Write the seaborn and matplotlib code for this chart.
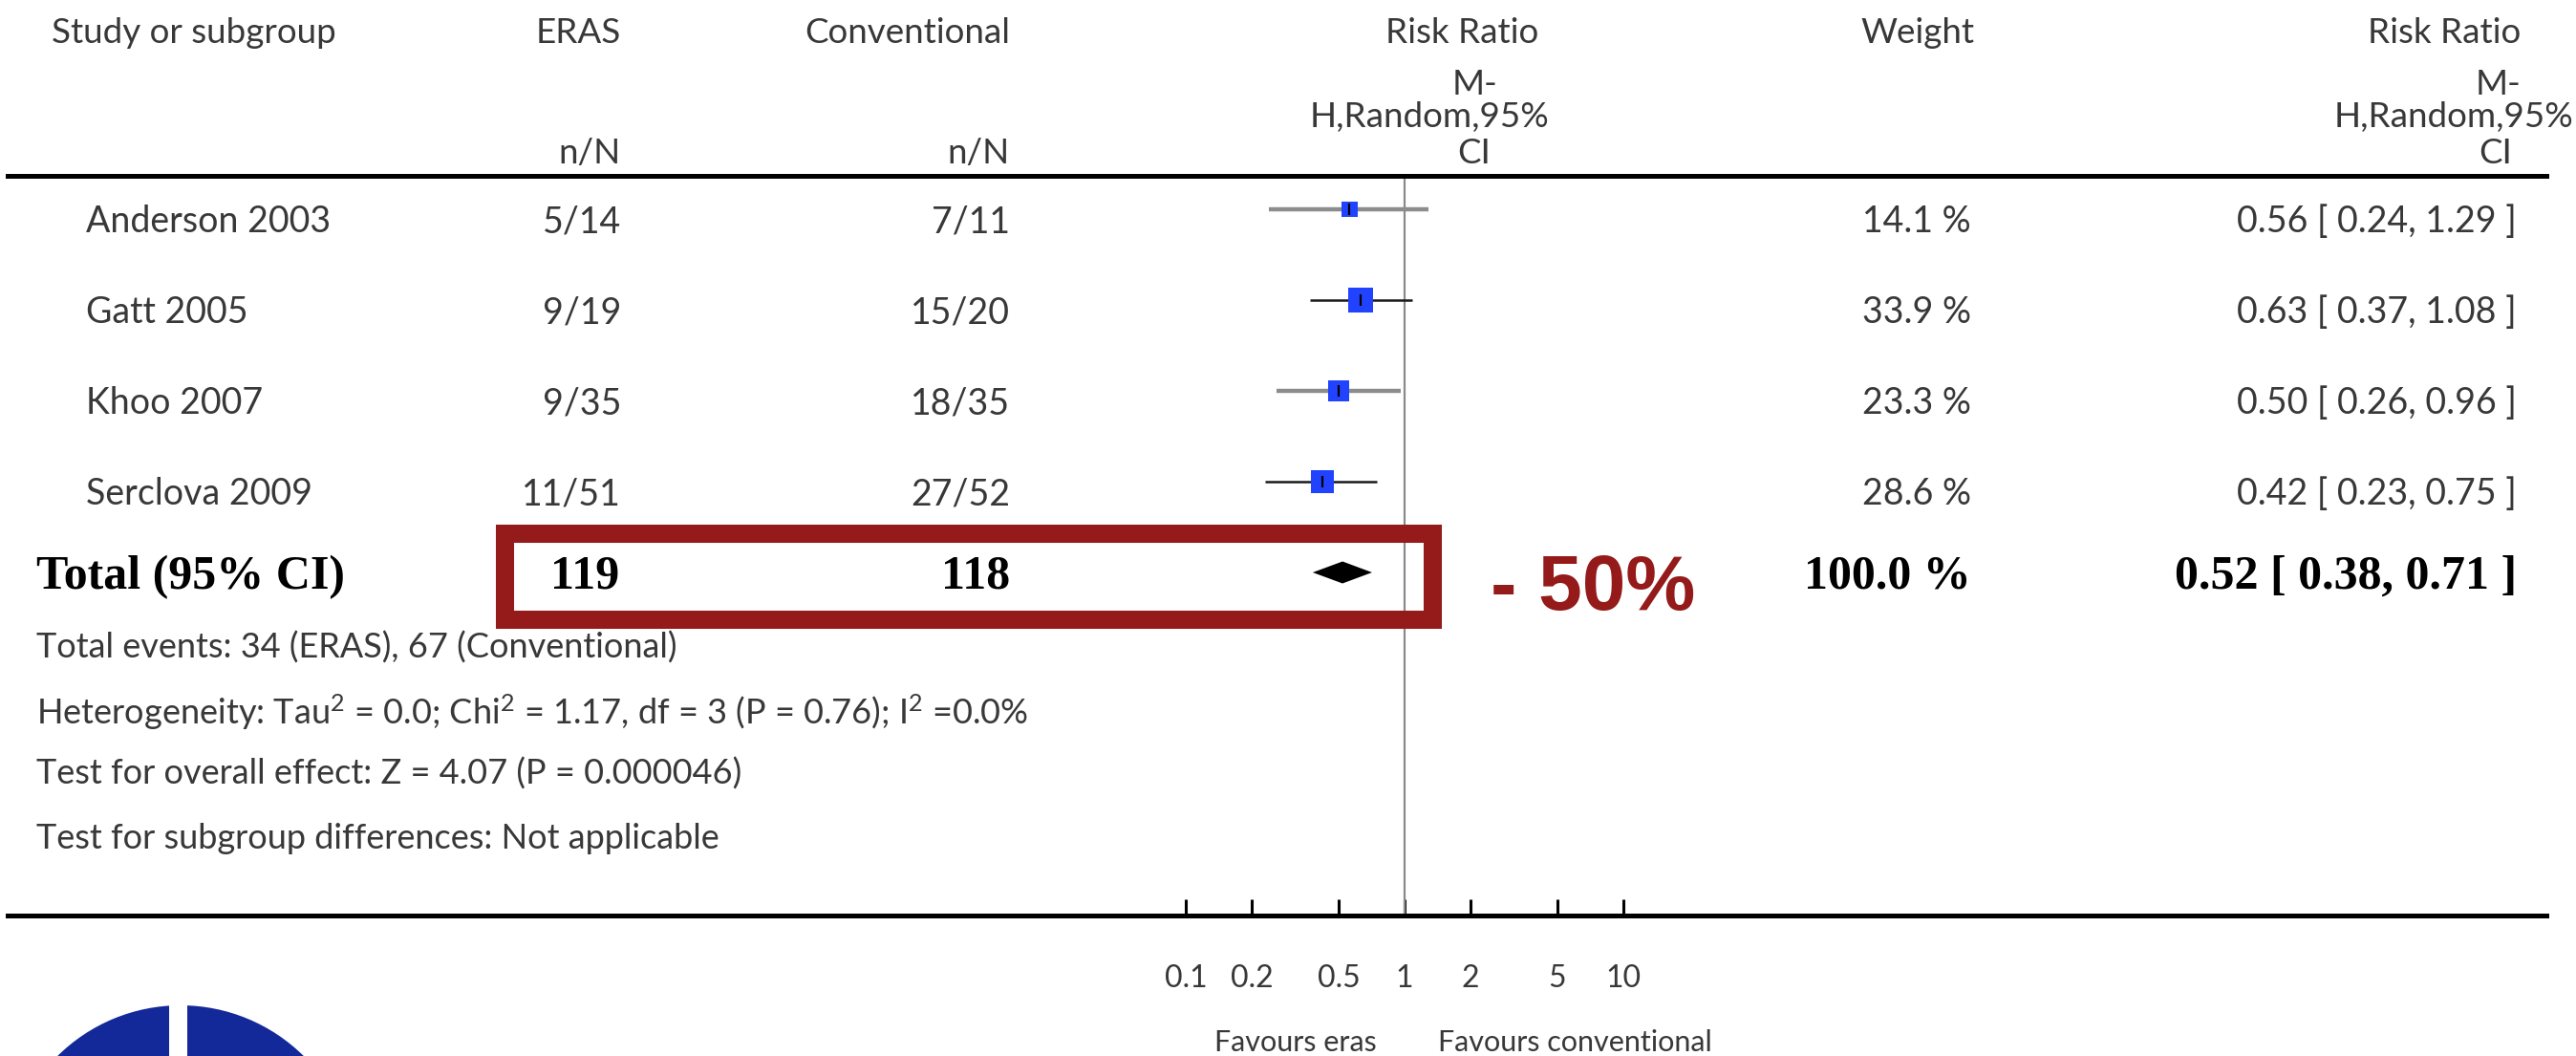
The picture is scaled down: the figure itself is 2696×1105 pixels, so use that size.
import numpy as np
import pandas as pd
import matplotlib
matplotlib.use("Agg")
import matplotlib.pyplot as plt
import matplotlib.transforms as mtransforms
from matplotlib.patches import Rectangle, Circle
from matplotlib.ticker import NullLocator, FixedLocator, FixedFormatter
import seaborn as sns

# ---- data -------------------------------------------------------------
studies = ["Anderson 2003", "Gatt 2005", "Khoo 2007", "Serclova 2009"]
eras_events = [5, 9, 9, 11]
eras_total = [14, 19, 35, 51]
conv_events = [7, 15, 18, 27]
conv_total = [11, 20, 35, 52]
weights = [14.1, 33.9, 23.3, 28.6]
rr = [0.56, 0.63, 0.50, 0.42]
rr_low = [0.24, 0.37, 0.26, 0.23]
rr_high = [1.29, 1.08, 0.96, 0.75]

total_eras_n = 119
total_conv_n = 118
total_weight = 100.0
total_rr = 0.52
total_low = 0.38
total_high = 0.71
events_eras = 34
events_conv = 67
footnotes = [
    f"Total events: {events_eras} (ERAS), {events_conv} (Conventional)",
    r"Heterogeneity: Tau$^{2}$ = 0.0; Chi$^{2}$ = 1.17, df = 3 (P = 0.76); I$^{2}$ =0.0%",
    "Test for overall effect: Z = 4.07 (P = 0.000046)",
    "Test for subgroup differences: Not applicable",
]
reduction_label = "- 50%"

scale_ticks = [0.1, 0.2, 0.5, 1, 2, 5, 10]
scale_tick_labels = ["0.1", "0.2", "0.5", "1", "2", "5", "10"]
favours_left = "Favours eras"
favours_right = "Favours conventional"

# ---- style ------------------------------------------------------------
sns.set_theme(style="white")
plt.rcParams["font.family"] = ["Lato", "DejaVu Sans"]
plt.rcParams["mathtext.fontset"] = "custom"
plt.rcParams["mathtext.rm"] = "Lato"
plt.rcParams["mathtext.it"] = "Lato:italic"
plt.rcParams["mathtext.bf"] = "Lato:bold"
plt.rcParams["mathtext.default"] = "rm"
TXT = "#383838"
RED = "#951a1a"
BLUE = "#2143ff"
SERIF = ["Liberation Serif", "DejaVu Serif"]

W, H = 2696, 1105
fig = plt.figure(figsize=(W / 100, H / 100), dpi=100)
fig.patch.set_facecolor("white")

# forest axes: its top and bottom spines are the table rules
AX_L, AX_R, AX_T, AX_B = 8, 2665, 184, 958
ax = fig.add_axes([AX_L / W, 1 - AX_B / H, (AX_R - AX_L) / W, (AX_B - AX_T) / H])

ROW0, ROW_H = 219, 95          # first row centre and row pitch (px)
PX_ONE, PX_DEC = 1470, 228.7   # x of RR=1 and width of one decade (px)


def row_of(py):
    return (py - ROW0) / ROW_H


def colx(px):
    return (px - AX_L) / (AX_R - AX_L)


ax.set_xscale("log")
ax.set_xlim(10 ** ((AX_L - PX_ONE) / PX_DEC), 10 ** ((AX_R - PX_ONE) / PX_DEC))
ax.set_ylim(row_of(AX_B), row_of(AX_T))
T = ax.get_yaxis_transform()


def put(px, py, s, ha="left", size=27, color=TXT, **kw):
    ax.text(colx(px), row_of(py), s, transform=T, ha=ha, va="baseline",
            fontsize=size, color=color, clip_on=False, **kw)


# ---- header ------------------------------------------------------------
put(54, 45, "Study or subgroup", size=26.5)
put(650, 45, "ERAS", ha="right", size=26.5)
put(650, 171, "n/N", ha="right", size=26.5)
put(1057, 45, "Conventional", ha="right", size=26.5)
put(1057, 171, "n/N", ha="right", size=26.5)
put(1530, 45, "Risk Ratio", ha="center", size=26.5)
put(1543, 99, "M-", ha="center", size=26.5)
put(1496, 133, "H,Random,95%", ha="center", size=26.5)
put(1543, 171, "CI", ha="center", size=26.5)
put(2007, 45, "Weight", ha="center", size=26.5)
put(2638, 45, "Risk Ratio", ha="right", size=26.5)
put(2638, 99, "M-", ha="right", size=26.5)
put(2693, 133, "H,Random,95%", ha="right", size=26.5)
put(2629, 171, "CI", ha="right", size=26.5)

# ---- study rows --------------------------------------------------------
df = pd.DataFrame({
    "study": studies, "rr": rr, "lo": rr_low, "hi": rr_high,
    "weight": weights, "row": np.arange(len(studies)),
})
ci_colors = ["#8c8c8c", "#1a1a1a", "#8c8c8c", "#1a1a1a"]
ci_widths = [3.2, 1.8, 3.2, 1.8]
BASE = 24  # baseline offset below row centre (px)
for i, r in df.iterrows():
    yb = ROW0 + ROW_H * r["row"] + BASE
    put(90, yb, r["study"])
    put(650, yb, f"{eras_events[i]}/{eras_total[i]}", ha="right")
    put(1057, yb, f"{conv_events[i]}/{conv_total[i]}", ha="right")
    put(2063, yb, f"{r['weight']:.1f} %", ha="right")
    put(2634, yb, f"{r['rr']:.2f} [ {r['lo']:.2f}, {r['hi']:.2f} ]", ha="right")

ax.hlines(df["row"], df["lo"], df["hi"], colors=ci_colors,
          linewidths=ci_widths, zorder=2)
sns.scatterplot(data=df, x="rr", y="row", size="weight", sizes=(0, 1035),
                size_norm=(0, 100), marker="s", color=BLUE, edgecolor="none",
                linewidth=0, legend=False, ax=ax, zorder=3)
ax.plot(df["rr"], df["row"], linestyle="none", marker="|", markersize=9,
        markeredgewidth=1.6, color="black", zorder=4)

# ---- pooled row ---------------------------------------------------------
trow = len(studies)
yb_tot = ROW0 + ROW_H * trow + 17
bold_serif = dict(size=36, color="black", weight="bold", family=SERIF)
put(38, yb_tot, "Total (95% CI)", **bold_serif)
put(648, yb_tot, f"{total_eras_n}", ha="right", **bold_serif)
put(1057, yb_tot, f"{total_conv_n}", ha="right", **bold_serif)
put(2063, yb_tot, f"{total_weight:.1f} %", ha="right", **bold_serif)
put(2634, yb_tot, f"{total_rr:.2f} [ {total_low:.2f}, {total_high:.2f} ]",
    ha="right", **bold_serif)
dh = 11.5 / ROW_H
ax.fill([total_low, total_rr, total_high, total_rr],
        [trow, trow - dh, trow, trow + dh], color="black", lw=0, zorder=3)

# ---- footnotes ----------------------------------------------------------
for py, s in zip([689, 758, 821, 888], footnotes):
    put(38, py, s, size=26)

# ---- reference line and scale ------------------------------------------
ax.axvline(1, color="#8a8a8a", lw=1.6, zorder=1)
for side in ("left", "right"):
    ax.spines[side].set_visible(False)
for side in ("top", "bottom"):
    ax.spines[side].set_visible(True)
    ax.spines[side].set_color("black")
    ax.spines[side].set_linewidth(3.6)
ax.grid(False)
ax.set_yticks([])
ax.set_xlabel("")
ax.set_ylabel("")
ax.xaxis.set_major_locator(FixedLocator(scale_ticks))
ax.xaxis.set_major_formatter(FixedFormatter(scale_tick_labels))
ax.xaxis.set_minor_locator(NullLocator())
ax.tick_params(axis="x", which="major", direction="in", length=12, width=2.2,
               color="black", bottom=True, top=False, labelsize=23,
               labelcolor=TXT, pad=37)

put(1441, 1100, favours_left, ha="right", size=22)
put(1505, 1100, favours_right, ha="left", size=22)

# highlight frame round the pooled counts and estimate
ax.add_patch(Rectangle((colx(527.5), row_of(648)), colx(1498.5) - colx(527.5),
                       row_of(557.5) - row_of(648), transform=T, fill=False,
                       edgecolor=RED, lw=13.7, joinstyle="miter", clip_on=False,
                       zorder=5))
put(1560, 638, reduction_label, size=59, color=RED, weight="bold",
    family=["Liberation Sans"])

# ---- logo ---------------------------------------------------------------
px = mtransforms.Affine2D().scale(1 / W, -1 / H).translate(0, 1) + fig.transFigure
fig.add_artist(Circle((189, 1235), 183, transform=px, color="#13299a", lw=0))
fig.add_artist(Rectangle((177, 1040), 19, 80, transform=px, color="white", lw=0))

fig.savefig("out.png", dpi=100, facecolor="white")
